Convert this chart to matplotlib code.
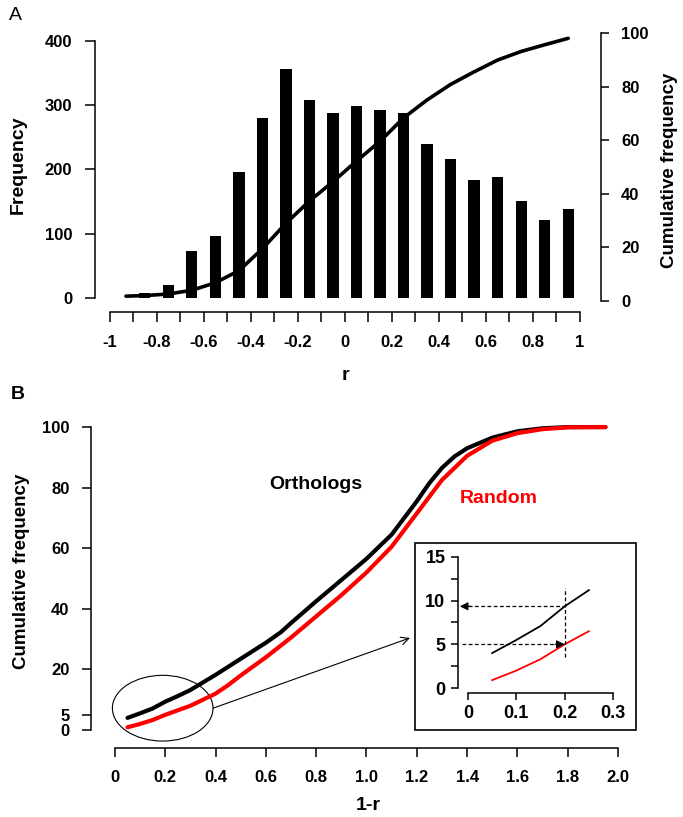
import matplotlib
import matplotlib.figure
from matplotlib.backends import backend_agg as agg
from matplotlib.patches import Ellipse, Rectangle

# ---- panel A: distribution of r between ortholog pairs ----
bin_centres = [-0.85, -0.75, -0.65, -0.55, -0.45, -0.35, -0.25, -0.15,
               -0.05, 0.05, 0.15, 0.25, 0.35, 0.45, 0.55, 0.65, 0.75,
               0.85, 0.95]
counts = [7, 20, 73, 97, 196, 280, 357, 308, 288, 299, 292, 288, 240,
          216, 184, 188, 151, 121, 138]
cum_x = [-0.93, -0.85, -0.75, -0.65, -0.55, -0.45, -0.35, -0.25, -0.15,
         -0.05, 0.05, 0.15, 0.25, 0.35, 0.45, 0.55, 0.65, 0.75, 0.85, 0.95]
cum_pct = [1.8, 2.0, 2.6, 4.0, 6.8, 11.3, 19.5, 29.0, 37.3, 44.5, 52.2,
           59.6, 68.3, 75.0, 80.8, 85.5, 89.9, 93.1, 95.6, 98.0]
r_ticks = [-1, -0.8, -0.6, -0.4, -0.2, 0, 0.2, 0.4, 0.6, 0.8, 1]
r_labels = ["-1", "-0.8", "-0.6", "-0.4", "-0.2", "0", "0.2", "0.4",
            "0.6", "0.8", "1"]
r_minor = [-0.9, -0.7, -0.5, -0.3, -0.1, 0.1, 0.3, 0.5, 0.7, 0.9]

# ---- panel B: cumulative frequency of 1-r ----
ortho_x = [0.05, 0.1, 0.15, 0.2, 0.25, 0.3, 0.4, 0.5, 0.6, 0.66, 0.7,
           0.8, 0.9, 1.0, 1.1, 1.2, 1.25, 1.3, 1.35, 1.4, 1.5, 1.6, 1.7,
           1.8, 1.95]
ortho_y = [4.0, 5.5, 7.1, 9.35, 11.2, 13.2, 18.2, 23.5, 28.8, 32.3, 35.3,
           42.5, 49.5, 56.5, 64.5, 75.5, 81.5, 86.5, 90.3, 93.0, 96.5,
           98.6, 99.6, 100, 100]
random_x = [0.05, 0.1, 0.15, 0.2, 0.25, 0.3, 0.4, 0.45, 0.5, 0.6, 0.7,
            0.8, 0.9, 1.0, 1.1, 1.2, 1.25, 1.3, 1.4, 1.5, 1.6, 1.7, 1.8,
            1.95]
random_y = [0.9, 2.0, 3.3, 5.0, 6.5, 8.0, 12.0, 14.8, 18.0, 24.0, 30.5,
            37.5, 44.5, 52.0, 60.5, 71.5, 77.0, 82.5, 90.5, 95.5, 98.0,
            99.3, 99.9, 100]
b_xticks = [0, 0.2, 0.4, 0.6, 0.8, 1.0, 1.2, 1.4, 1.6, 1.8, 2.0]
b_xlabels = ["0", "0.2", "0.4", "0.6", "0.8", "1.0", "1.2", "1.4", "1.6",
             "1.8", "2.0"]
b_yticks = [0, 5, 20, 40, 60, 80, 100]
inset_n = 5                       # the inset zooms on the first 5 points
inset_xticks = [0, 0.1, 0.2, 0.3]
inset_xlabels = ["0", "0.1", "0.2", "0.3"]
inset_yticks = [0, 2.5, 5, 7.5, 10, 12.5, 15]
inset_ylabels = ["0", "", "5", "", "10", "", "15"]

W, H = 683, 817
label_font = ["Liberation Sans", "DejaVu Sans"]
matplotlib.rcParams["font.family"] = label_font
matplotlib.rcParams["font.weight"] = "bold"
matplotlib.rcParams["axes.linewidth"] = 1.1

fig = matplotlib.figure.Figure(figsize=(W / 100, H / 100), dpi=100)
agg.FigureCanvasAgg(fig)


def box(left, top, right, bottom):
    # pixel box -> figure fraction [l, b, w, h]
    return [left / W, 1 - bottom / H, (right - left) / W, (bottom - top) / H]


def style_ticks(ax, size=12, pad=9, length=6.5):
    ax.tick_params(which="both", direction="out", length=length, width=1.1,
                   labelsize=size, pad=pad)
    for lab in ax.get_xticklabels() + ax.get_yticklabels():
        lab.set_fontweight("bold")


# ---------------- panel A ----------------
axA = fig.add_axes(box(94.5, 30, 601, 312.5))
axA.bar(bin_centres, counts, width=0.048, color="black")
axA.set_xlim(-1.0638, 1.0893)
axA.set_ylim(-22.6, 417.1)
axA.spines["top"].set_visible(False)
axA.spines["right"].set_visible(False)
axA.spines["left"].set_bounds(0, 400)
axA.spines["bottom"].set_bounds(-1, 1)
axA.set_yticks([0, 100, 200, 300, 400])
axA.set_xticks(r_ticks)
axA.set_xticklabels(r_labels)
axA.set_xticks(r_minor, minor=True)
style_ticks(axA, length=7)

axA2 = axA.twinx()
axA2.plot(cum_x, cum_pct, color="black", lw=2.6, solid_capstyle="round")
axA2.set_ylim(-4.3, 101.1)
for s in ["top", "bottom", "left"]:
    axA2.spines[s].set_visible(False)
axA2.spines["right"].set_bounds(0, 100)
axA2.set_yticks([0, 20, 40, 60, 80, 100])
style_ticks(axA2, length=5.5)

fig.text(15 / W, 1 - 16 / H, "A", fontsize=14, fontweight="normal",
         ha="center", va="center")
fig.text(18 / W, 1 - 165 / H, "Frequency", rotation=90, fontsize=14,
         ha="center", va="center")
fig.text(670 / W, 1 - 170 / H, "Cumulative frequency", rotation=90,
         fontsize=13.5, ha="center", va="center")
fig.text(345 / W, 1 - 375 / H, "r", fontsize=14, ha="center",
         va="center")

# ---------------- panel B ----------------
axB = fig.add_axes(box(91, 421, 630.6, 748))
axB.plot(ortho_x, ortho_y, color="black", lw=3.0, solid_capstyle="round")
axB.plot(random_x, random_y, color="red", lw=3.0, solid_capstyle="round")
axB.set_xlim(-0.095, 2.05)
axB.set_ylim(-5.94, 102)
axB.spines["top"].set_visible(False)
axB.spines["right"].set_visible(False)
axB.spines["left"].set_bounds(0, 100)
axB.spines["bottom"].set_bounds(0, 2)
axB.set_xticks(b_xticks)
axB.set_xticklabels(b_xlabels)
axB.set_yticks(b_yticks)
style_ticks(axB)

axB.text(0.80, 80.9, "Orthologs", color="black", fontsize=14,
         ha="center", va="center")
axB.text(1.524, 76.3, "Random", color="red", fontsize=14,
         ha="center", va="center")

# circle round the low end, and the arrow to the inset
axB.add_patch(Ellipse((0.19, 7.2), width=0.4, height=21.7, fill=False,
                      lw=0.8, edgecolor="black", clip_on=False))
axB.annotate("", xy=(1.173, 30.4), xytext=(0.39, 7.2),
             arrowprops=dict(arrowstyle="->", lw=0.8, color="black",
                             shrinkA=0, shrinkB=0, mutation_scale=14))

fig.text(18 / W, 1 - 395 / H, "B", fontsize=14, ha="center", va="center")
fig.text(22 / W, 1 - 571 / H, "Cumulative frequency", rotation=90,
         fontsize=13.5, ha="center", va="center")
fig.text(368 / W, 1 - 805 / H, "1-r", fontsize=14, ha="center",
         va="center")

# ---------------- inset ----------------
frame = Rectangle((415 / W, 1 - 730 / H), 221 / W, 187 / H,
                  transform=fig.transFigure, facecolor="white",
                  edgecolor="black", lw=1.2, zorder=1)
fig.add_artist(frame)

axI = fig.add_axes(box(458, 552.6, 622.7, 693))
axI.set_zorder(2)
axI.patch.set_visible(False)
axI.plot(ortho_x[:inset_n], ortho_y[:inset_n], color="black", lw=1.3)
axI.plot(random_x[:inset_n], random_y[:inset_n], color="red", lw=1.3)
axI.set_xlim(-0.0207, 0.32)
axI.set_ylim(-0.57, 15.5)
axI.spines["top"].set_visible(False)
axI.spines["right"].set_visible(False)
axI.spines["left"].set_bounds(0, 15)
axI.spines["bottom"].set_bounds(0, 0.3)
axI.set_xticks(inset_xticks)
axI.set_xticklabels(inset_xlabels)
axI.set_yticks(inset_yticks)
axI.set_yticklabels(inset_ylabels)
style_ticks(axI, size=13, pad=4, length=5)

# dashed read-offs at 1-r = 0.2
x_read = ortho_x[3]
dash = (0, (3, 2))
axI.plot([x_read, x_read], [3.6, 11.5], color="black", lw=0.9, ls=dash)
axI.plot([-0.012, x_read], [ortho_y[3]] * 2, color="black", lw=0.9,
         ls=dash)
axI.plot([-0.012, x_read - 0.01], [random_y[3]] * 2, color="black",
         lw=0.9, ls=dash)
axI.annotate("", xy=(-0.017, ortho_y[3]), xytext=(0.005, ortho_y[3]),
             arrowprops=dict(arrowstyle="-|>", color="black", lw=0.9,
                             shrinkA=0, shrinkB=0, mutation_scale=12))
axI.annotate("", xy=(x_read, random_y[3]),
             xytext=(x_read - 0.02, random_y[3]),
             arrowprops=dict(arrowstyle="-|>", color="black", lw=0.9,
                             shrinkA=0, shrinkB=0, mutation_scale=12))

fig.savefig("out.png", dpi=100)
